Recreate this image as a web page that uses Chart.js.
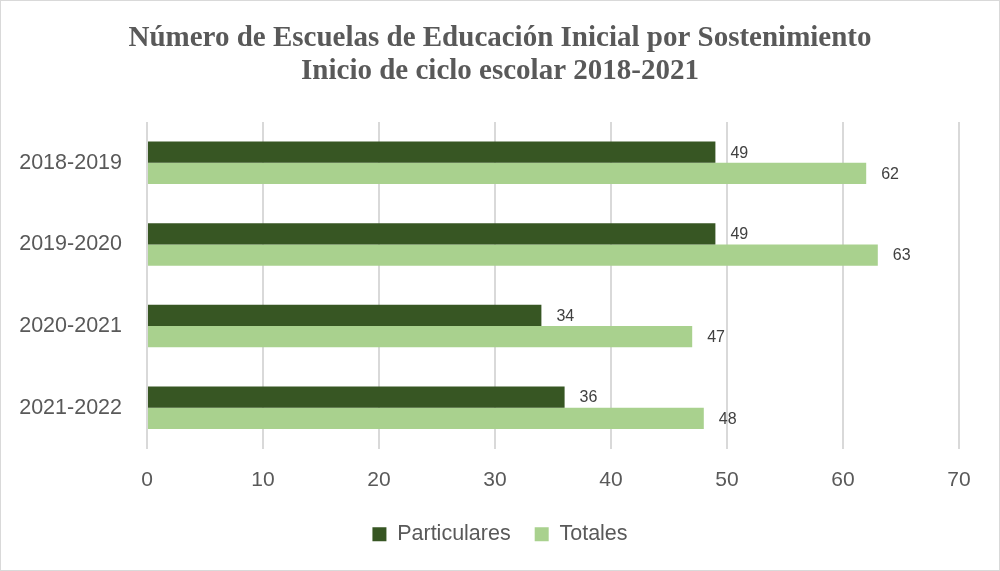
<!DOCTYPE html>
<html lang="es">
<head>
<meta charset="utf-8">
<title>Escuelas de Educación Inicial</title>
<script src="https://cdn.jsdelivr.net/npm/chart.js@4.4.1/dist/chart.umd.min.js"></script>
<style>
  html, body { margin: 0; padding: 0; background: #fff; }
  #wrap {
    position: relative;
    width: 1000px; height: 571px;
    box-sizing: border-box;
    border: 1px solid #d9d9d9;
  }
</style>
</head>
<body>
<div id="wrap"><canvas id="chart"></canvas></div>
<script>
// Ciclos escolares y número de escuelas
const ciclos = ['2018-2019', '2019-2020', '2020-2021', '2021-2022'];
const particulares = [49, 49, 34, 36];
const totales = [62, 63, 47, 48];
const xTicks = [0, 10, 20, 30, 40, 50, 60, 70];
const titulo = ['Número de Escuelas de Educación Inicial por Sostenimiento',
                'Inicio de ciclo escolar 2018-2021'];

const textGray = '#595959';
const sans = '"Liberation Sans", Arial, sans-serif';

// Título en dos líneas, centrado sobre todo el lienzo
const titlePlugin = {
    id: 'titlePlugin',
    afterDraw(chart) {
        const ctx = chart.ctx;
        ctx.save();
        ctx.font = 'bold 29px "Liberation Serif", "Times New Roman", serif';
        ctx.fillStyle = textGray;
        ctx.textAlign = 'center';
        ctx.textBaseline = 'middle';
        ctx.fillText(titulo[0], chart.width / 2, 37.5);
        ctx.fillText(titulo[1], chart.width / 2, 71);
        ctx.restore();
    }
};

// Etiquetas de valor a la derecha de cada barra
const barLabels = {
    id: 'barLabels',
    afterDatasetsDraw(chart) {
        const ctx = chart.ctx;
        ctx.save();
        ctx.font = '16px ' + sans;
        ctx.fillStyle = '#404040';
        ctx.textAlign = 'left';
        ctx.textBaseline = 'middle';
        chart.data.datasets.forEach((ds, i) => {
            chart.getDatasetMeta(i).data.forEach((bar, j) => {
                ctx.fillText(ds.data[j], bar.x + 15, bar.y + 1);
            });
        });
        ctx.restore();
    }
};

const ctx = document.getElementById('chart').getContext('2d');
new Chart(ctx, {
    type: 'bar',
    data: {
        labels: ciclos,
        datasets: [{
            label: 'Particulares',
            data: particulares,
            backgroundColor: '#375623',
            categoryPercentage: 0.52,
            barPercentage: 1
        }, {
            label: 'Totales',
            data: totales,
            backgroundColor: '#a9d18e',
            categoryPercentage: 0.52,
            barPercentage: 1
        }]
    },
    options: {
        indexAxis: 'y',
        responsive: true,
        maintainAspectRatio: false,
        animation: false,
        layout: { padding: { top: 121, left: 15, right: 15, bottom: 15 } },
        scales: {
            x: {
                min: 0, max: 70,
                afterBuildTicks: (scale) => { scale.ticks = xTicks.map(v => ({ value: v })); },
                afterFit: (scale) => { scale.height = 51; },
                grid: { color: '#d9d9d9', lineWidth: 2, drawTicks: false },
                border: { display: false },
                ticks: {
                    color: textGray,
                    padding: 19,
                    font: { family: sans, size: 21 }
                }
            },
            y: {
                grid: { display: false },
                border: { display: false },
                afterFit: (scale) => { scale.width = 131; },
                ticks: {
                    color: textGray,
                    padding: 17,
                    font: { family: sans, size: 21.5 }
                }
            },
            // eje vacío a la derecha para dejar margen tras el 70
            yRight: {
                type: 'category',
                position: 'right',
                grid: { display: false },
                border: { display: false },
                ticks: { display: false },
                afterFit: (scale) => { scale.width = 25; }
            }
        },
        plugins: {
            title: { display: false },
            legend: {
                position: 'bottom',
                labels: {
                    color: textGray,
                    boxWidth: 14,
                    boxHeight: 14,
                    padding: 24,
                    font: { family: sans, size: 21.5 }
                }
            },
            tooltip: { enabled: false }
        }
    },
    plugins: [barLabels, titlePlugin]
});
</script>
</body>
</html>
